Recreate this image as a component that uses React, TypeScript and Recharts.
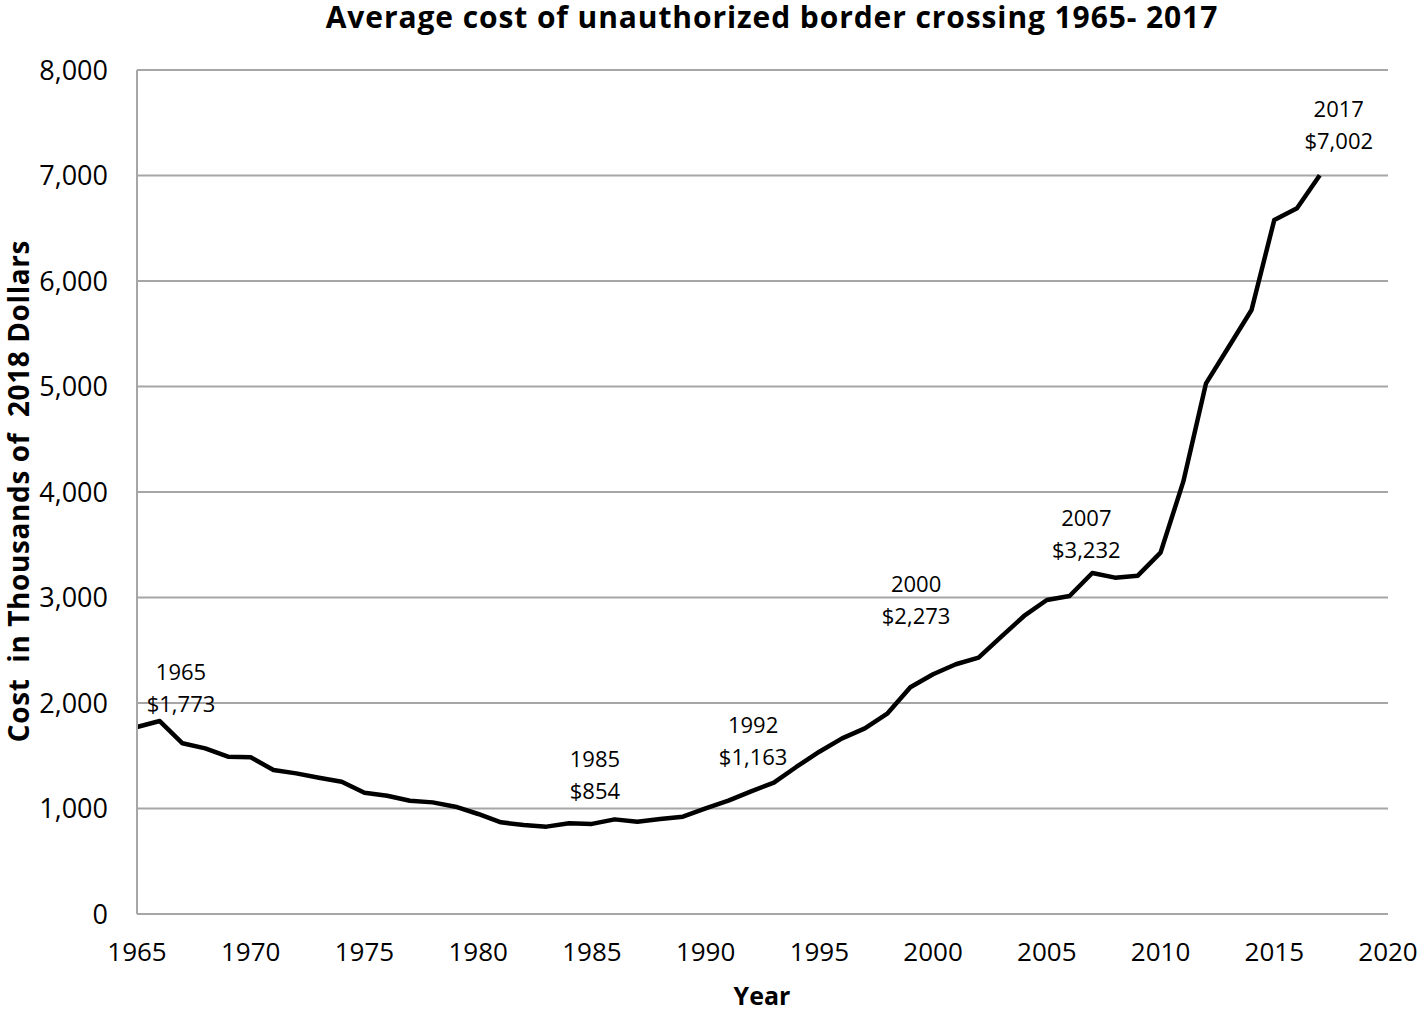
import React from 'react';
import { LineChart, Line, XAxis, YAxis, CartesianGrid, LabelList } from 'recharts';

const years: number[] = [
  1965, 1966, 1967, 1968, 1969, 1970, 1971, 1972, 1973, 1974,
  1975, 1976, 1977, 1978, 1979, 1980, 1981, 1982, 1983, 1984,
  1985, 1986, 1987, 1988, 1989, 1990, 1991, 1992, 1993, 1994,
  1995, 1996, 1997, 1998, 1999, 2000, 2001, 2002, 2003, 2004,
  2005, 2006, 2007, 2008, 2009, 2010, 2011, 2012, 2013, 2014,
  2015, 2016, 2017,
];

const costs: number[] = [
  1773, 1829, 1618, 1570, 1491, 1485, 1365, 1333, 1292, 1254,
  1150, 1121, 1074, 1058, 1017, 948, 869, 844, 828, 860,
  854, 897, 875, 900, 922, 1001, 1074, 1163, 1245, 1396,
  1538, 1665, 1760, 1902, 2149, 2273, 2367, 2430, 2629, 2825,
  2976, 3014, 3232, 3188, 3207, 3425, 4098, 5030, 5377, 5725,
  6578, 6689, 7002,
];

const xTicks: number[] = [1965, 1970, 1975, 1980, 1985, 1990, 1995, 2000, 2005, 2010, 2015, 2020];
const yTicks: number[] = [0, 1000, 2000, 3000, 4000, 5000, 6000, 7000, 8000];

const annotatedYears: number[] = [1965, 1985, 1992, 2000, 2007, 2017];

const title = 'Average cost of unauthorized border crossing 1965- 2017';
const xTitle = 'Year';
const yTitle = 'Cost  in Thousands of  2018 Dollars';

// label placement (styling), relative to the data point
const labelOffsets: Record<number, { dx: number; dy: number }> = {
  1965: { dx: 44, dy: -24 },
  1985: { dx: 3, dy: -34 },
  1992: { dx: 2, dy: -35 },
  2000: { dx: -17, dy: -59 },
  2007: { dx: -6, dy: -24 },
  2017: { dx: 19, dy: -35 },
};

const data = years.map((year, i) => ({ year, cost: costs[i] }));

const FONT = '"Open Sans", sans-serif';
const fmt = (v: number) => v.toLocaleString('en-US');

const renderAnnotation = (props: any) => {
  const { x, y, value } = props;
  const year = Number(value);
  if (!annotatedYears.includes(year)) return null;
  const idx = years.indexOf(year);
  const off = labelOffsets[year] || { dx: 0, dy: -30 };
  const cx = Number(x) + off.dx;
  const cy = Number(y) + off.dy;
  return (
    <g key={`ann-${year}`}>
      <text x={cx} y={cy - 32} textAnchor="middle" dominantBaseline="central" fontSize={22} fontFamily={FONT} fill="#000">
        {String(year)}
      </text>
      <text x={cx} y={cy} textAnchor="middle" dominantBaseline="central" fontSize={22} fontFamily={FONT} fill="#000">
        {'$' + fmt(costs[idx])}
      </text>
    </g>
  );
};

export default function App() {
  return (
    <div style={{ position: 'absolute', left: 0, top: 0, width: 1418, height: 1011, background: '#fff' }}>
      <LineChart width={1418} height={1011} data={data} margin={{ top: 70, right: 30, left: 0, bottom: 0 }}>
        <text x={772} y={28} textAnchor="middle" fontSize={30} letterSpacing={0.9} fontWeight="bold" fontFamily={FONT} fill="#000">
          {title}
        </text>
        <text x={762} y={1005} textAnchor="middle" fontSize={25} fontWeight="bold" fontFamily={FONT} fill="#000">
          {xTitle}
        </text>
        <text
          x={29}
          y={491}
          textAnchor="middle"
          fontSize={28}
          letterSpacing={0.6}
          fontWeight="bold"
          fontFamily={FONT}
          fill="#000"
          transform="rotate(-90 29 491)"
          style={{ whiteSpace: 'pre' }}
        >
          {yTitle}
        </text>
        <CartesianGrid vertical={false} stroke="#a6a6a6" strokeWidth={2} />
        <XAxis
          dataKey="year"
          type="number"
          domain={[1965, 2020]}
          ticks={xTicks}
          interval={0}
          height={97}
          tickLine={false}
          tickSize={0}
          tickMargin={29}
          axisLine={{ stroke: '#a6a6a6', strokeWidth: 2 }}
          tick={{ fontSize: 26, fontFamily: FONT, fill: '#000' }}
        />
        <YAxis
          type="number"
          domain={[0, 8000]}
          ticks={yTicks}
          interval={0}
          width={137}
          tickLine={false}
          tickSize={0}
          tickMargin={29}
          tickFormatter={fmt}
          axisLine={{ stroke: '#a6a6a6', strokeWidth: 2 }}
          tick={{ fontSize: 27, fontFamily: FONT, fill: '#000' }}
        />
        <Line
          type="linear"
          dataKey="cost"
          stroke="#000"
          strokeWidth={4.5}
          dot={false}
          isAnimationActive={false}
          strokeLinejoin="round"
        >
          <LabelList dataKey="year" content={renderAnnotation} />
        </Line>
      </LineChart>
    </div>
  );
}
